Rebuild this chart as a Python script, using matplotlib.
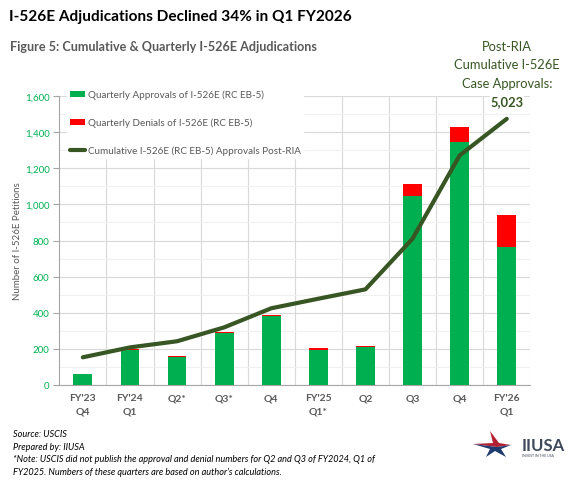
import matplotlib
matplotlib.use("Agg")
import matplotlib.pyplot as plt
from matplotlib.patches import Patch, Polygon
from matplotlib.lines import Line2D
import numpy as np

plt.rcParams["font.family"] = ["Lato", "DejaVu Sans"]

# data
quarters = ["FY'23\nQ4", "FY'24\nQ1", "Q2*", "Q3*", "Q4", "FY'25\nQ1*", "Q2", "Q3", "Q4", "FY'26\nQ1"]
approvals = [60, 195, 152, 285, 381, 194, 207, 1045, 1348, 765]
denials = [0, 3, 8, 9, 7, 7, 9, 68, 82, 175]
cumulative_line = [152, 207, 241, 318, 424, 477, 529, 810, 1272, 1475]
total_cumulative = "5,023"

GREEN = "#00B050"
RED = "#FF0000"
OLIVE = "#375623"
GRAY_TXT = "#595959"
W, H = 575, 485


def fx(x):
    return x / W


def fy(y):
    return 1 - y / H


fig = plt.figure(figsize=(W / 100, H / 100), dpi=100)
ax = fig.add_axes([fx(59.3), fy(385.7), fx(530.3) - fx(59.3), fy(97.3) - fy(385.7)])

x = np.arange(len(quarters))
ax.bar(x, approvals, width=0.4, color=GREEN, zorder=3)
ax.bar(x, denials, width=0.4, bottom=approvals, color=RED, zorder=3)
ax.plot(x, cumulative_line, color=OLIVE, lw=3.0, solid_capstyle="round",
        solid_joinstyle="round", zorder=4)

ax.set_xlim(-0.5, len(quarters) - 0.5)
ax.set_ylim(0, 1600)
ax.set_yticks(np.arange(0, 1601, 200))
ax.set_yticks(np.arange(100, 1600, 200), minor=True)
ax.set_yticklabels([f"{v:,}" for v in range(0, 1601, 200)])
ax.grid(axis="y", which="major", color="#D9D9D9", lw=0.8, zorder=0)
ax.grid(axis="y", which="minor", color="#F0F0F0", lw=0.8, zorder=0)
for b in np.arange(0.5, len(quarters), 1.0):
    ax.axvline(b, color="#D9D9D9", lw=0.8, zorder=0)

ax.set_xticks(x)
ax.set_xticklabels(quarters, color=GRAY_TXT, fontsize=7.5, fontweight="bold",
                   linespacing=1.6)
ax.tick_params(axis="x", length=0, pad=6)
ax.tick_params(axis="y", which="major", labelsize=7, labelcolor=GREEN,
               color="#A6A6A6", length=4, width=0.8, pad=3)
ax.tick_params(axis="y", which="minor", length=0)
for s in ("top", "right"):
    ax.spines[s].set_visible(False)
ax.spines["left"].set_color("#A6A6A6")
ax.spines["bottom"].set_color("#A6A6A6")

fig.text(fx(18), fy(241), "Number of I-526E Petitions", rotation=90,
         ha="center", va="center", fontsize=7, color=GRAY_TXT)

handles = [
    Patch(facecolor=GREEN, edgecolor="none"),
    Patch(facecolor=RED, edgecolor="none"),
    Line2D([0], [0], color=OLIVE, lw=3.0, solid_capstyle="round"),
]
labels = [
    "Quarterly Approvals of I-526E (RC EB-5)",
    "Quarterly Denials of I-526E (RC EB-5)",
    "Cumulative I-526E (RC EB-5) Approvals Post-RIA",
]
leg = fig.legend(handles, labels, loc="upper left",
                 bbox_to_anchor=(fx(62), fy(83)), frameon=True,
                 facecolor="white", edgecolor="white", framealpha=1,
                 fontsize=7.1, labelspacing=1.85, handlelength=1.5,
                 handleheight=0.6, handletextpad=0.3, borderpad=0.3)
for t in leg.get_texts():
    t.set_color(GRAY_TXT)
leg.set_zorder(10)

# cumulative total callout
callout = ["Post-RIA", "Cumulative I-526E", "Case Approvals:"]
for i, line in enumerate(callout):
    fig.text(fx(507), fy(47 + 18.3 * i), line, ha="center", va="center",
             fontsize=9.3, color=OLIVE,
             bbox=dict(facecolor="white", edgecolor="none", pad=0.5))
fig.text(fx(507), fy(102), total_cumulative, ha="center", va="center",
         fontsize=9.3, color=OLIVE, fontweight="bold",
         bbox=dict(facecolor="white", edgecolor="none", pad=0.5))

# headings
fig.text(fx(9), fy(17), "I-526E Adjudications Declined 34% in Q1 FY2026",
         ha="left", va="center", fontsize=11.1, fontweight="bold", color="black")
fig.text(fx(10), fy(47), "Figure 5: Cumulative & Quarterly I-526E Adjudications",
         ha="left", va="center", fontsize=9.1, fontweight="bold", color=GRAY_TXT)

# footnotes
notes = [
    "Source: USCIS",
    "Prepared by: IIUSA",
    "*Note: USCIS did not publish the approval and denial numbers for Q2 and Q3 of FY2024, Q1 of",
    "FY2025. Numbers of these quarters are based on author's calculations.",
]
for i, n in enumerate(notes):
    fig.text(fx(13), fy(435 + 12.4 * i), n, ha="left", va="center",
             fontsize=6.6, style="italic", color="black")

# rough IIUSA logo
lax = fig.add_axes([fx(470), fy(460), fx(568) - fx(470), fy(430) - fy(460)])
lax.set_xlim(470, 568)
lax.set_ylim(460, 430)
lax.axis("off")
lax.add_patch(Polygon([(473, 445), (493, 444), (490, 432), (499, 444), (511, 446),
                       (497, 448)], closed=True, color="#B22234", lw=0))
lax.add_patch(Polygon([(473, 445), (497, 448), (511, 446), (501, 450), (506, 458),
                       (495, 452), (486, 458), (490, 450)], closed=True,
                      color="#1F3A6E", lw=0))
lax.text(522, 446, "IIUSA", ha="left", va="center", fontsize=12,
         fontweight="bold", color="#3E4A5B")
lax.text(522, 456, "INVEST IN THE USA", ha="left", va="center", fontsize=2.5,
         color="#3E4A5B")

fig.savefig("out.png", dpi=100)
